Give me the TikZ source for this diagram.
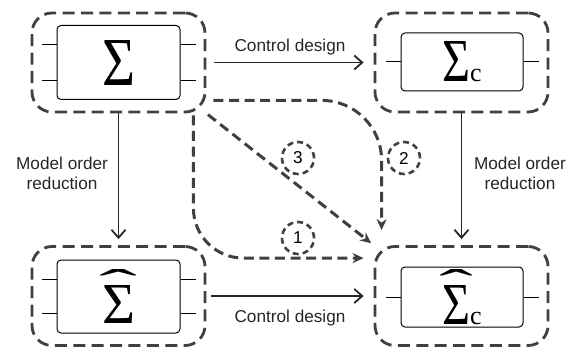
\documentclass[tikz,border=0pt]{standalone}
\usepackage{fontspec}
\setmainfont{Liberation Sans}
\newfontfamily\sigmafont{Liberation Serif}
\usetikzlibrary{positioning, calc, arrows.meta}
\colorlet{linegray}{black!75}
\tikzset{
  outer/.style={rectangle, rounded corners=10pt, draw=linegray, line width=1.4pt, dash pattern=on 6pt off 3.2pt, minimum width=86.5pt, minimum height=49.5pt},
  inner/.style={rectangle, rounded corners=2pt, draw=black, line width=0.5pt, inner sep=0pt},
  stub/.style={draw=black, line width=0.5pt},
  arrow/.style={-{Straight Barb[length=4pt, width=7pt]}, line width=0.9pt, draw=black!85},
  flow/.style={-{Stealth[length=5.5pt, width=5pt]}, line width=1.5pt, draw=linegray, dash pattern=on 5pt off 2.8pt},
  numlabel/.style={circle, draw=linegray, line width=1.3pt, dash pattern=on 3pt off 2pt, minimum size=16pt, inner sep=0pt, font=\fontsize{8.6}{10}\selectfont},
  txt/.style={font=\fontsize{8.6}{10}\selectfont, align=center, text=black!85}
}
\newcommand{\bigsig}[2]{{\sigmafont\resizebox{#1}{#2}{Σ}}}
% sigma with a wide hat: #1 width, #2 height, #3 hat width
\newcommand{\hatsig}[3]{\vbox{\offinterlineskip\hbox to #1{\hss\raisebox{-11pt}[4pt][0pt]{\sigmafont\resizebox{#3}{15pt}{ˆ}}\hss}\kern4pt\hbox{\bigsig{#1}{#2}}}}
\newcommand{\subc}{{\sigmafont\fontsize{13}{15}\selectfont c}}

\begin{document}
\begin{tikzpicture}[x=0.5pt, y=-0.5pt]
\useasboundingbox (0,0) rectangle (571,347);

% Full order plant
\node[outer] (sys) at (118.5,62.5) {};
\node[inner, minimum width=61.5pt, minimum height=37pt] (sysin) at (sys) {\bigsig{16.5pt}{22.5pt}};
\foreach \dy in {9pt,-9pt} {
  \draw[stub] ([yshift=\dy]sysin.west) -- +(-7.5pt,0);
  \draw[stub] ([yshift=\dy]sysin.east) -- +(7.5pt,0);
}

% Controller
\node[outer] (ctrl) at (461.5,62.5) {};
\node[inner, minimum width=61pt, minimum height=29pt] (ctrlin) at (462,62) {\bigsig{14pt}{20pt}\subc};
\draw[stub] (ctrlin.west) -- +(-7.5pt,0);
\draw[stub] (ctrlin.east) -- +(7.5pt,0);

% Reduced order plant
\node[outer] (red) at (118.5,296) {};
\node[inner, minimum width=61.5pt, minimum height=36.5pt] (redin) at (118.5,296.5) {\hatsig{16.5pt}{19pt}{19pt}};
\foreach \dy in {8.5pt,-8.5pt} {
  \draw[stub] ([yshift=\dy]redin.west) -- +(-7.5pt,0);
  \draw[stub] ([yshift=\dy]redin.east) -- +(7.5pt,0);
}

% Reduced order controller
\node[outer] (redctrl) at (461.5,296) {};
\node[inner, minimum width=61pt, minimum height=30pt] (redctrlin) at (462,297) {\hatsig{14pt}{19.5pt}{17pt}\subc};
\draw[stub] (redctrlin.west) -- +(-7.5pt,0);
\draw[stub] (redctrlin.east) -- +(7.5pt,0);

% Solid arrows
\draw[arrow, shorten <=4pt, shorten >=5pt] (sys) -- (ctrl) node[txt, midway, above] {Control design};
\draw[arrow, shorten <=2.5pt, shorten >=5pt] (red) -- (redctrl) node[txt, midway, below=3pt] {Control design};
\draw[arrow, shorten >=3pt] (sys) -- (red) node[txt, midway, left=1.5pt, yshift=3pt] {Model order\\reduction};
\draw[arrow, shorten >=3pt] (ctrl) -- (redctrl) node[txt, midway, right=2.5pt, yshift=3pt] {Model order\\reduction};

% Dashed routes
\draw[flow, rounded corners=25pt] ($(sys.south east)+(-13,2)$) |- ($(redctrl.north west)+(-10,13)$);
\draw[flow, rounded corners=30pt] ($(sys.south east)+(7,-13)$) -| ($(redctrl.north west)+(8,-15)$);
\draw[flow, shorten <=1pt, shorten >=1.5pt] (sys.south east) -- (redctrl.north west);

\node[numlabel] (n3) at (298,158) {3};
\node[numlabel] (n2) at (404,158) {2};
\node[numlabel] (n1) at (298,238) {1};

\end{tikzpicture}
\end{document}
